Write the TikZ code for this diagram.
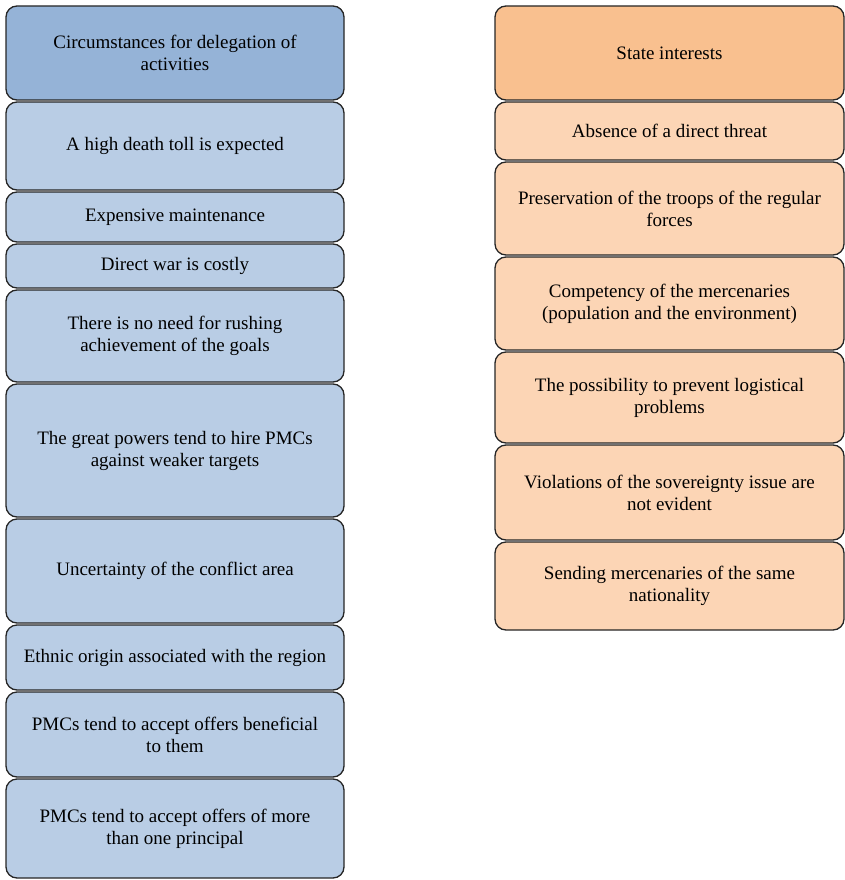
\documentclass[tikz,border=0pt]{standalone}
\usepackage{fontspec}
\setmainfont{Liberation Serif}
\definecolor{bluehead}{HTML}{95B3D7}
\definecolor{bluebody}{HTML}{B9CDE5}
\definecolor{orangehead}{HTML}{F9C08F}
\definecolor{orangebody}{HTML}{FCD5B5}
\definecolor{edgegray}{HTML}{262626}
\tikzset{
  cell/.style={draw=edgegray, line width=1.3pt, rounded corners=11pt, align=center,
    inner sep=2pt, font=\rmfamily\fontsize{19}{22}\selectfont, text=black},
  lcell/.style={cell, fill=bluebody, minimum width=338pt},
  lhead/.style={lcell, fill=bluehead},
  rcell/.style={cell, fill=orangebody, minimum width=349pt},
  rhead/.style={rcell, fill=orangehead},
}
\begin{document}
\begin{tikzpicture}[x=1pt,y=-1pt]
\useasboundingbox (0,0) rectangle (845,880);
% left column
\node[lhead, minimum height=94pt] (l1) at (175,53) {Circumstances for delegation of\\activities};
\node[lcell, minimum height=88pt] (l2) at (175,146) {A high death toll is expected};
\node[lcell, minimum height=50pt] (l3) at (175,217) {Expensive maintenance};
\node[lcell, minimum height=44pt] (l4) at (175,266) {Direct war is costly};
\node[lcell, minimum height=92pt] (l5) at (175,336) {There is no need for rushing\\achievement of the goals};
\node[lcell, minimum height=133pt] (l6) at (175,450.5) {The great powers tend to hire PMCs\\against weaker targets};
\node[lcell, minimum height=104pt] (l7) at (175,571) {Uncertainty of the conflict area};
\node[lcell, minimum height=65pt] (l8) at (175,657.5) {Ethnic origin associated with the region};
\node[lcell, minimum height=85pt] (l9) at (175,734.5) {PMCs tend to accept offers beneficial\\to them};
\node[lcell, minimum height=99pt] (l10) at (175,828.5) {PMCs tend to accept offers of more\\than one principal};
% right column
\node[rhead, minimum height=94pt] (r1) at (669.5,53) {State interests};
\node[rcell, minimum height=58pt] (r2) at (669.5,131) {Absence of a direct threat};
\node[rcell, minimum height=93pt] (r3) at (669.5,208.5) {Preservation of the troops of the regular\\forces};
\node[rcell, minimum height=93pt] (r4) at (669.5,303.5) {Competency of the mercenaries\\(population and the environment)};
\node[rcell, minimum height=91pt] (r5) at (669.5,397.5) {The possibility to prevent logistical\\problems};
\node[rcell, minimum height=95pt] (r6) at (669.5,492.5) {Violations of the sovereignty issue are\\not evident};
\node[rcell, minimum height=88pt] (r7) at (669.5,586) {Sending mercenaries of the same\\nationality};
\end{tikzpicture}
\end{document}
